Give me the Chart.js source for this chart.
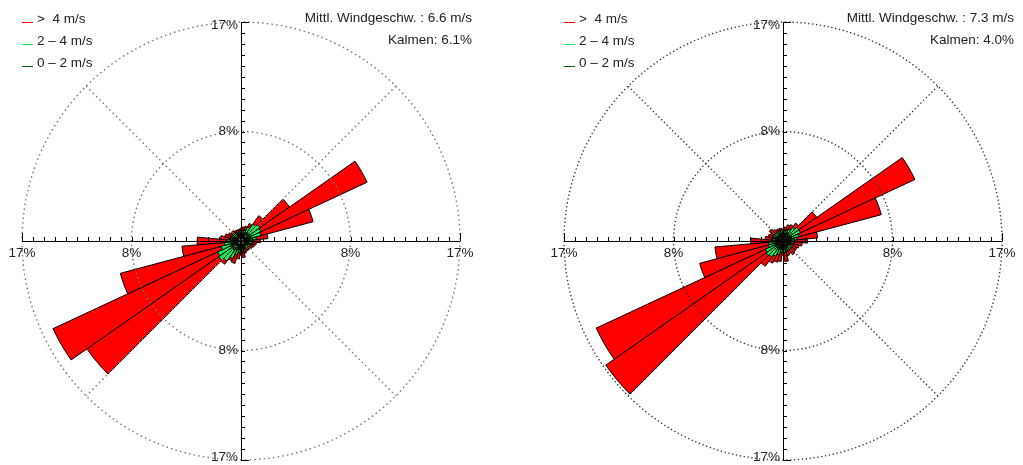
<!DOCTYPE html>
<html><head><meta charset="utf-8">
<script src="https://cdn.jsdelivr.net/npm/chart.js@4.4.1/dist/chart.umd.min.js"></script>
<style>
html,body{margin:0;padding:0;background:#fff;width:1023px;height:465px;overflow:hidden;}
.panel{position:absolute;top:0;width:490px;height:465px;}
.panel canvas{position:absolute;left:0;top:0;}
.txt{position:absolute;font-family:"Liberation Sans",Arial,sans-serif;font-size:13.5px;color:#222;white-space:pre;line-height:16px;}
.ln{position:absolute;left:22px;width:11px;height:1px;}
.stat{right:18px;text-align:right;}
</style>
</head><body>
<div class="panel" id="p0" style="left:0px"></div>
<div class="panel" id="p1" style="left:542px"></div>
<script>
// ---- data ----
const directions = ['0','10','20','30','40','50','60','70','80','90','100','110','120','130','140','150','160','170',
                    '180','190','200','210','220','230','240','250','260','270','280','290','300','310','320','330','340','350'];
const speedClasses = ['0 – 2 m/s', '2 – 4 m/s', '>  4 m/s'];
const classColors = ['#006400', '#11ee55', '#ff0000'];

// left rose: frequency (%) per direction and speed class
const leftLow  = [0.6,0.6,0.6,0.7,0.8,0.8,0.8,0.8,0.7,0.7,0.6,0.6,0.6,0.6,0.6,0.6,0.6,0.6,0.6,0.7,0.7,0.8,0.9,0.9,0.9,0.8,0.8,0.7,0.7,0.6,0.6,0.6,0.6,0.6,0.6,0.6];
const leftMid  = [0.2,0.2,0.3,0.5,0.8,1.0,0.9,0.8,0.5,0.3,0.3,0.2,0.2,0.1,0.1,0.1,0.1,0.2,0.2,0.2,0.4,0.7,1.0,1.2,1.1,0.8,0.5,0.4,0.2,0.2,0.2,0.2,0.2,0.1,0.1,0.1];
const leftHigh = [0.2,0.3,0.3,0.3,0.8,2.8,9.1,4.2,0.9,0.5,0.3,0.3,0.2,0.2,0.2,0.2,0.3,0.5,0.3,0.5,0.7,0.2,0.3,12.5,14.1,8.1,3.3,2.3,0.7,0.5,0.3,0.2,0.2,0.2,0.2,0.2];
const leftMeanSpeed = '6.6 m/s';
const leftCalm = '6.1%';

// right rose
const rightLow  = [0.6,0.6,0.6,0.7,0.7,0.7,0.7,0.7,0.7,0.6,0.6,0.6,0.6,0.6,0.6,0.6,0.6,0.6,0.6,0.6,0.7,0.7,0.7,0.7,0.7,0.7,0.7,0.6,0.6,0.6,0.6,0.6,0.6,0.6,0.6,0.6];
const rightMid  = [0.2,0.2,0.3,0.3,0.6,0.8,0.8,0.6,0.4,0.3,0.2,0.2,0.2,0.2,0.2,0.2,0.2,0.3,0.2,0.3,0.4,0.6,0.8,0.9,0.8,0.5,0.4,0.3,0.2,0.2,0.2,0.2,0.2,0.2,0.2,0.2];
const rightHigh = [0.1,0.3,0.4,0.4,0.4,1.7,9.8,6.6,1.6,1.0,0.7,0.5,0.4,0.4,0.5,0.3,0.4,0.7,0.3,0.7,0.6,0.6,0.9,15.2,14.5,5.5,4.2,1.6,0.6,0.4,0.3,0.5,0.3,0.2,0.2,0.2];
const rightMeanSpeed = '7.3 m/s';
const rightCalm = '4.0%';

// axis
const ringValues = [8.5, 17];
const ringLabels = ['8%', '17%'];
const axisMax = 17;
const minorTickStep = 0.85;

// ---- drawing ----
const FONT = '13.5px "Liberation Sans", Arial, sans-serif';

function makeOverlay(gridColor, dash){
  return {
    id:'roseOverlay',
    afterDatasetsDraw(chart){
      const s = chart.scales.r, ctx = chart.ctx;
      const cx = s.xCenter, cy = s.yCenter;
      const R = s.getDistanceFromCenterForValue(axisMax);
      ctx.save();
      ctx.lineWidth = 1.4;
      ctx.strokeStyle = gridColor;
      ctx.setLineDash(dash);
      ringValues.forEach(v => {
        const r = s.getDistanceFromCenterForValue(v);
        ctx.beginPath(); ctx.arc(cx, cy, r, 0, Math.PI*2); ctx.stroke();
      });
      [45, 135].forEach(a => {
        const t = a*Math.PI/180, dx = R*Math.cos(t), dy = R*Math.sin(t);
        ctx.beginPath(); ctx.moveTo(cx-dx, cy-dy); ctx.lineTo(cx+dx, cy+dy); ctx.stroke();
      });
      ctx.setLineDash([]);
      ctx.lineWidth = 1;
      ctx.strokeStyle = '#000';
      ctx.beginPath();
      ctx.moveTo(Math.round(cx-R), Math.round(cy)+0.5); ctx.lineTo(Math.round(cx+R), Math.round(cy)+0.5);
      ctx.moveTo(Math.round(cx)+0.5, Math.round(cy-R)); ctx.lineTo(Math.round(cx)+0.5, Math.round(cy+R));
      const n = Math.round(axisMax/minorTickStep);
      for (let k=1;k<=n;k++){
        const d = s.getDistanceFromCenterForValue(k*minorTickStep);
        const len = k===n ? 8 : 4;
        [-1,1].forEach(sg => {
          const x = Math.round(cx+sg*d)+0.5;
          ctx.moveTo(x, Math.round(cy)); ctx.lineTo(x, Math.round(cy)-len);
          const y = Math.round(cy+sg*d)+0.5;
          ctx.moveTo(Math.round(cx), y); ctx.lineTo(Math.round(cx)+len, y);
        });
      }
      ctx.stroke();
      ctx.fillStyle = '#222';
      ctx.font = FONT;
      ringValues.forEach((v,i) => {
        const d = s.getDistanceFromCenterForValue(v);
        ctx.textAlign = 'center'; ctx.textBaseline = 'top';
        ctx.fillText(ringLabels[i], cx-d, cy+6);
        ctx.fillText(ringLabels[i], cx+d, cy+6);
        ctx.textAlign = 'right'; ctx.textBaseline = 'middle';
        const off = v===axisMax ? 3 : 0;
        ctx.fillText(ringLabels[i], cx-3, cy-d+off);
        ctx.fillText(ringLabels[i], cx-3, cy+d-off);
      });
      ctx.restore();
    }
  };
}

function cumulative(){
  const arrs = arguments;
  return arrs[0].map((_,i) => {
    let s=0; for (let k=0;k<arrs.length;k++) s+=arrs[k][i]; return +s.toFixed(2);
  });
}

function buildRose(panelId, low, mid, high, meanSpeed, calm, gridColor, dash){
  const panel = document.getElementById(panelId);
  const cv = document.createElement('canvas');
  cv.width = 490; cv.height = 465;
  panel.appendChild(cv);
  // legend
  const order = [2,1,0];
  order.forEach((ci, row) => {
    const ln = document.createElement('div');
    ln.className = 'ln'; ln.style.top = (22+22*row)+'px'; ln.style.background = classColors[ci];
    panel.appendChild(ln);
    const t = document.createElement('div');
    t.className = 'txt'; t.style.left = '37px'; t.style.top = (11+22*row)+'px';
    t.textContent = speedClasses[ci];
    panel.appendChild(t);
  });
  const s1 = document.createElement('div');
  s1.className = 'txt stat'; s1.style.top = '10px'; s1.textContent = 'Mittl. Windgeschw. : ' + meanSpeed;
  panel.appendChild(s1);
  const s2 = document.createElement('div');
  s2.className = 'txt stat'; s2.style.top = '32px'; s2.textContent = 'Kalmen: ' + calm;
  panel.appendChild(s2);

  const series = [cumulative(low), cumulative(low, mid), cumulative(low, mid, high)];
  new Chart(cv, {
    type: 'polarArea',
    data: {
      labels: directions,
      datasets: series.map((d, i) => ({
        label: speedClasses[i], data: d,
        backgroundColor: classColors[i], borderColor: '#000', borderWidth: 1
      }))
    },
    options: {
      responsive: false, animation: false,
      layout: { padding: { left: 22, top: 22, right: 29, bottom: 4 } },
      plugins: { legend: { display: false }, tooltip: { enabled: false } },
      scales: { r: { min: 0, max: axisMax, startAngle: -5,
        ticks: { display: false }, grid: { display: false },
        angleLines: { display: false }, pointLabels: { display: false } } }
    },
    plugins: [makeOverlay(gridColor, dash)]
  });
}

buildRose('p0', leftLow, leftMid, leftHigh, leftMeanSpeed, leftCalm, '#777', [1.5, 3.2]);
buildRose('p1', rightLow, rightMid, rightHigh, rightMeanSpeed, rightCalm, '#333', [1.3, 2.6]);
</script>
</body></html>
